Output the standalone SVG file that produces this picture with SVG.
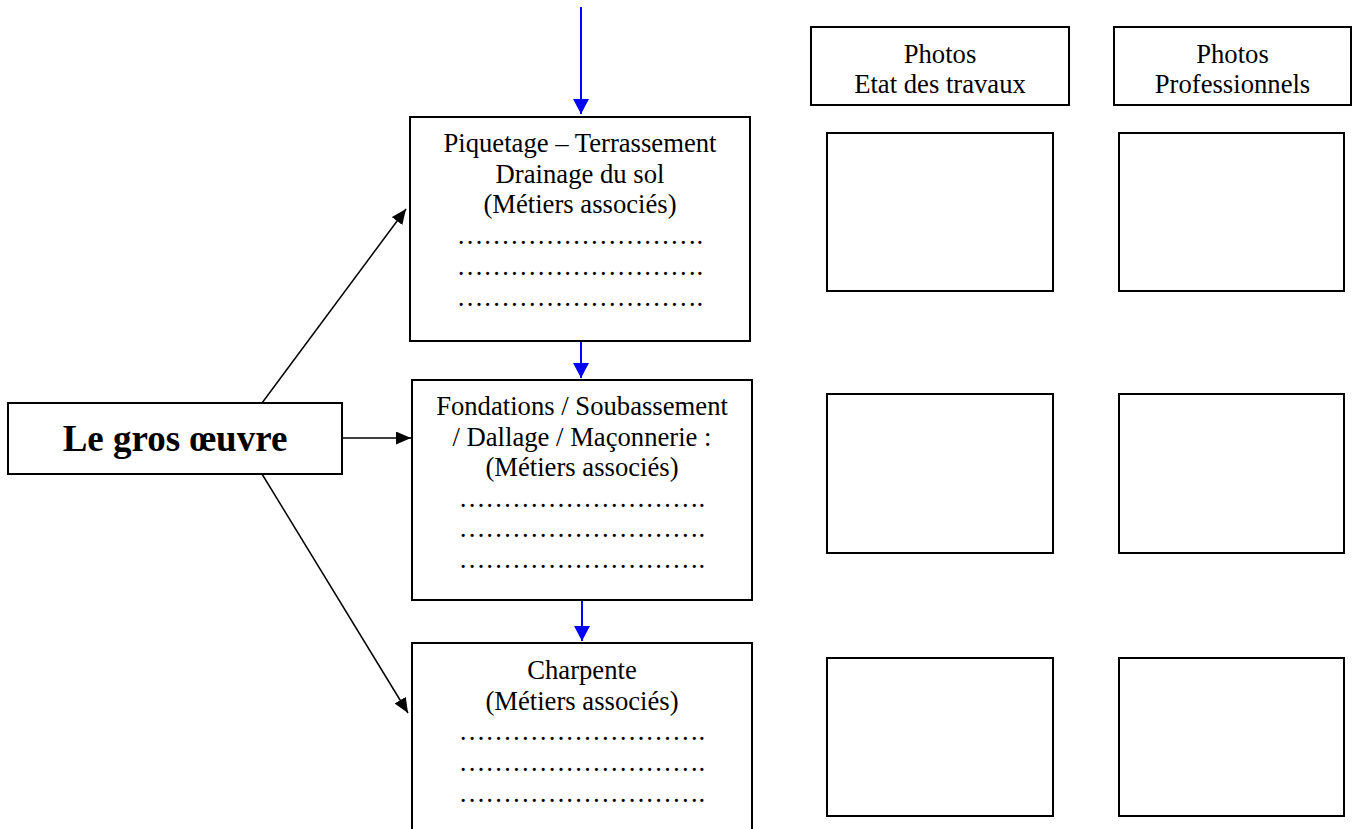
<svg xmlns="http://www.w3.org/2000/svg" width="1355" height="829" viewBox="0 0 1355 829">
  <style>
    .box { fill: #ffffff; stroke: #000000; stroke-width: 2; }
    .t { font-family: "Liberation Serif", "Times New Roman", serif; font-size: 26.67px; fill: #000000; text-anchor: middle; }
    .title { font-family: "Liberation Serif", "Times New Roman", serif; font-size: 37px; font-weight: bold; fill: #000000; text-anchor: middle; }
    .blk { stroke: #000000; stroke-width: 1.5; fill: none; }
    .blu { stroke: #0000ff; stroke-width: 2; fill: none; }
  </style>
  <defs>
    <marker id="ahBlack" markerUnits="userSpaceOnUse" markerWidth="16" markerHeight="14" refX="15" refY="6.5" orient="auto">
      <path d="M0,0 L15,6.5 L0,13 z" fill="#000000"/>
    </marker>
    <marker id="ahBlue" markerUnits="userSpaceOnUse" markerWidth="17" markerHeight="17" refX="15" refY="8" orient="auto">
      <path d="M0,0 L15,8 L0,16 z" fill="#0000ff"/>
    </marker>
  </defs>
  <rect x="0" y="0" width="1355" height="829" fill="#ffffff"/>

  <g id="connectors">
    <line class="blu" x1="581" y1="7" x2="581" y2="114" marker-end="url(#ahBlue)"/>
    <line class="blu" x1="581" y1="342" x2="581" y2="378" marker-end="url(#ahBlue)"/>
    <line class="blu" x1="582" y1="601" x2="582" y2="641" marker-end="url(#ahBlue)"/>
    <line class="blk" x1="262" y1="403" x2="406" y2="209" marker-end="url(#ahBlack)"/>
    <line class="blk" x1="342" y1="438" x2="411" y2="438" marker-end="url(#ahBlack)"/>
    <line class="blk" x1="262" y1="474" x2="408" y2="713" marker-end="url(#ahBlack)"/>
  </g>

  <g id="node-gros-oeuvre">
    <rect class="box" x="8" y="403" width="334" height="71"/>
    <text class="title" x="175" y="451">Le gros œuvre</text>
  </g>

  <g id="node-piquetage">
    <rect class="box" x="410" y="117" width="340" height="224"/>
    <text class="t" x="580" y="152">Piquetage – Terrassement</text>
    <text class="t" x="580" y="183">Drainage du sol</text>
    <text class="t" x="580" y="213">(Métiers associés)</text>
    <text class="t" x="580" y="244">……………………….</text>
    <text class="t" x="580" y="275">……………………….</text>
    <text class="t" x="580" y="306">……………………….</text>
  </g>

  <g id="node-fondations">
    <rect class="box" x="412" y="380" width="340" height="220"/>
    <text class="t" x="582" y="415">Fondations / Soubassement</text>
    <text class="t" x="582" y="446">/ Dallage / Maçonnerie :</text>
    <text class="t" x="582" y="476">(Métiers associés)</text>
    <text class="t" x="582" y="507">……………………….</text>
    <text class="t" x="582" y="537">……………………….</text>
    <text class="t" x="582" y="568">……………………….</text>
  </g>

  <g id="node-charpente">
    <rect class="box" x="412" y="643" width="340" height="200"/>
    <text class="t" x="582" y="679">Charpente</text>
    <text class="t" x="582" y="710">(Métiers associés)</text>
    <text class="t" x="582" y="740">……………………….</text>
    <text class="t" x="582" y="771">……………………….</text>
    <text class="t" x="582" y="802">……………………….</text>
  </g>

  <g id="header-etat">
    <rect class="box" x="811" y="27" width="258" height="78"/>
    <text class="t" x="940" y="63">Photos</text>
    <text class="t" x="940" y="93">Etat des travaux</text>
  </g>

  <g id="header-pro">
    <rect class="box" x="1114" y="27" width="237" height="78"/>
    <text class="t" x="1232.5" y="63">Photos</text>
    <text class="t" x="1232.5" y="93">Professionnels</text>
  </g>

  <g id="photo-etat-1"><rect class="box" x="827" y="133" width="226" height="158"/></g>
  <g id="photo-pro-1"><rect class="box" x="1119" y="133" width="225" height="158"/></g>
  <g id="photo-etat-2"><rect class="box" x="827" y="394" width="226" height="159"/></g>
  <g id="photo-pro-2"><rect class="box" x="1119" y="394" width="225" height="159"/></g>
  <g id="photo-etat-3"><rect class="box" x="827" y="658" width="226" height="158"/></g>
  <g id="photo-pro-3"><rect class="box" x="1119" y="658" width="225" height="158"/></g>
</svg>
